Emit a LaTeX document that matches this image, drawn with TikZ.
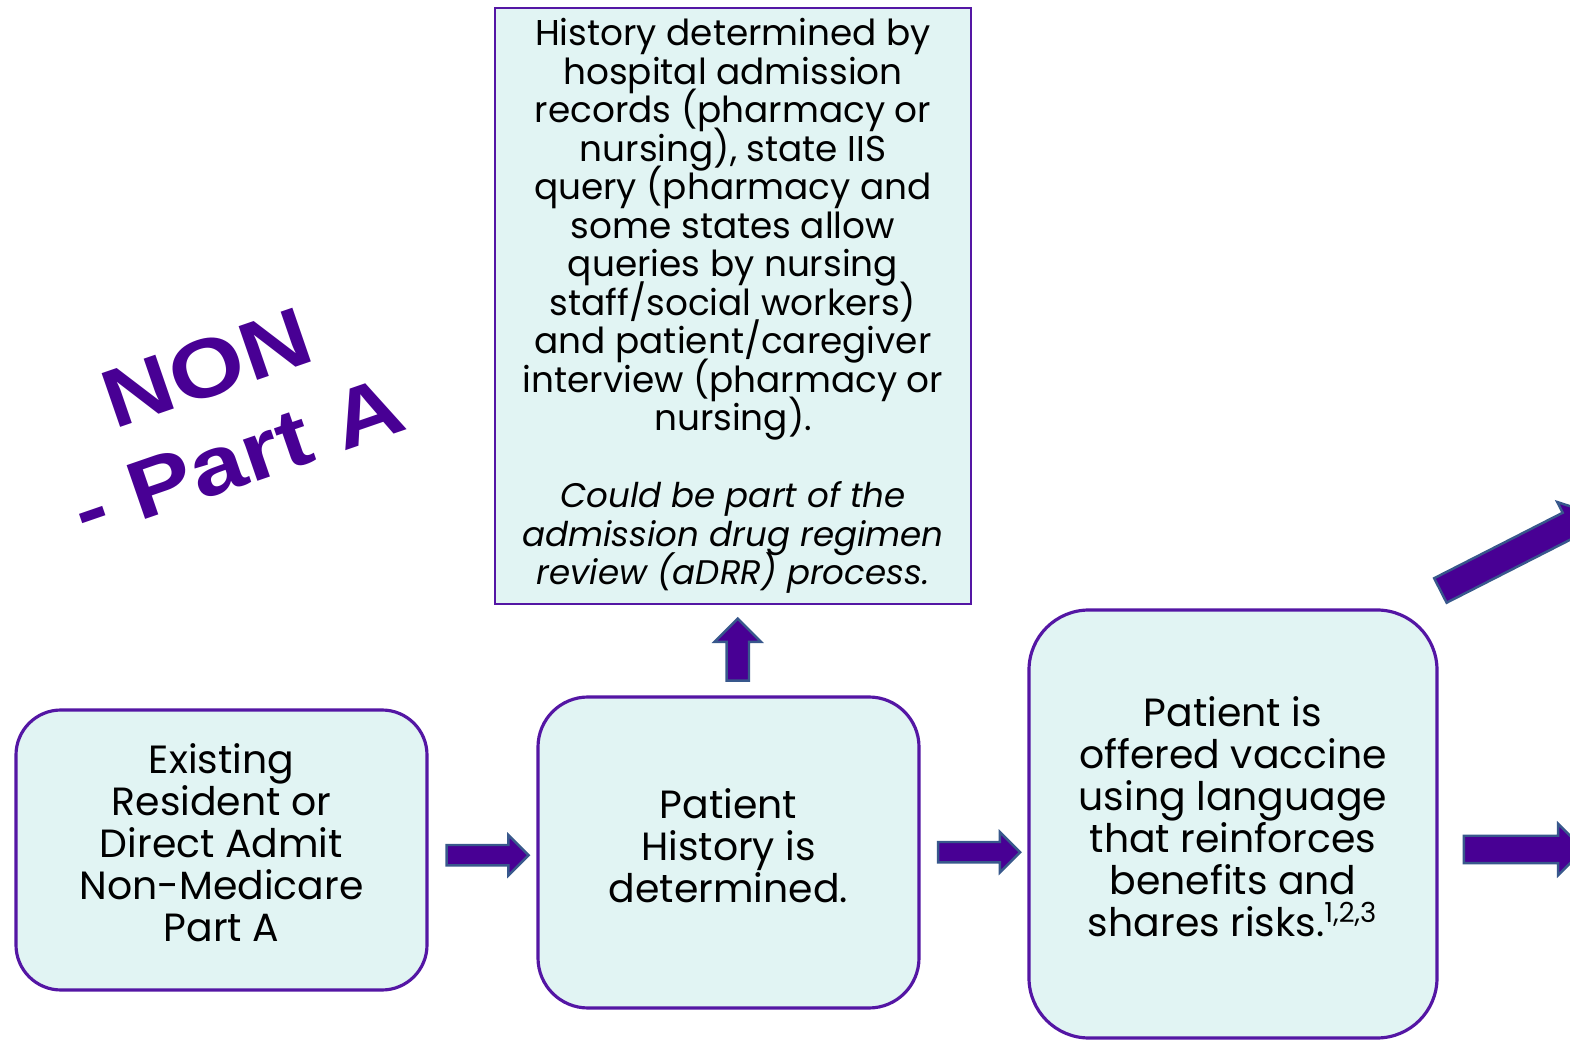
\documentclass[tikz,border=0pt]{standalone}
\usepackage{fontspec}
\setmainfont{Poppins}
\setsansfont{Liberation Sans}
\usetikzlibrary{arrows.meta,positioning,calc,shapes.arrows}
\definecolor{boxfill}{RGB}{225,244,243}
\definecolor{boxline}{RGB}{84,22,164}
\definecolor{arrfill}{RGB}{72,0,148}
\definecolor{arrline}{RGB}{56,88,140}
\tikzset{
  every node/.style={execute at begin node={\lineskiplimit=-\maxdimen}},
  lepes/.style={draw=boxline,line width=0.9pt,fill=boxfill,rounded corners=0.45cm,align=center,
                font=\fontsize{11.2}{11.95}\selectfont,inner sep=3pt,text depth=4pt},
  forras/.style={draw=boxline,line width=0.55pt,fill=boxfill,align=center,
                 font=\fontsize{10.2}{10.95}\selectfont,inner sep=2pt},
  blokknyil/.style={single arrow,draw=arrline,fill=arrfill,line width=0.7pt,inner sep=0.09cm,
                    single arrow head extend=0.1cm,minimum height=0.82cm},
  pecset/.style={text=arrfill,align=center,font=\sffamily\bfseries\fontsize{23.5}{27}\selectfont,
                 rotate=19,xscale=1.17,inner sep=0pt},
}
\newcommand{\dolt}[1]{{\fontsize{9.7}{10.95}\selectfont\itshape #1}}
\begin{document}
\begin{tikzpicture}
  \useasboundingbox (0,0) rectangle (15.70,-10.40);
  \fill[white] (0,0) rectangle (15.70,-10.40);
  \clip (0,0) rectangle (15.70,-10.40);
  \node[lepes,minimum width=4.11cm,minimum height=2.80cm] (exist) at (2.215,-8.50)
    {Existing\\ Resident or\\ Direct Admit\\ Non-Medicare\\ Part A};
  \node[lepes,minimum width=3.81cm,minimum height=3.11cm,rounded corners=0.5cm] (hist) at (7.285,-8.525)
    {Patient\\ History is\\ determined.};
  \node[lepes,minimum width=4.08cm,minimum height=4.28cm,rounded corners=0.6cm] (offer) at (12.33,-8.24)
    {Patient is\\ offered vaccine\\ using language\\ that reinforces\\ benefits and\\ shares risks.\textsuperscript{1,2,3}};
  \node[forras,minimum width=4.76cm,minimum height=5.96cm] (histsrc) at (7.33,-3.06)
    {History determined by\\ hospital admission\\ records (pharmacy or\\ nursing), state IIS\\
     query (pharmacy and\\ some states allow\\ queries by nursing\\ staff/social workers)\\
     and patient/caregiver\\ interview (pharmacy or\\ nursing).\\[10.95pt]
     \dolt{Could be part of the}\\ \dolt{admission drug regimen}\\ \dolt{review (aDRR) process.}};
  \node[pecset] (nonparta) at (2.22,-4.13) {NON\\- Part A};

  \node[blokknyil] (a1) at ($(exist.east)!0.5!(hist.west)+(0,-0.04)$) {};
  \node[blokknyil] (a2) at ($(hist.east)!0.5!(offer.west)+(0,-0.14)$) {};
  \node[blokknyil,rotate=90,minimum height=0.62cm,inner sep=0.1cm,single arrow head extend=0.12cm]
    (aup) at ($(histsrc.south)!0.5!(hist.north)+(0.07,-0.05)$) {};
  \node[blokknyil,minimum height=1.2cm,inner sep=0.125cm,single arrow head extend=0.12cm]
    (aright) at (15.17,-8.495) {};
  \node[blokknyil,rotate=27,minimum height=1.7cm,inner sep=0.125cm,single arrow head extend=0.12cm]
    (adiag) at (15.10,-5.55) {};
\end{tikzpicture}
\end{document}
